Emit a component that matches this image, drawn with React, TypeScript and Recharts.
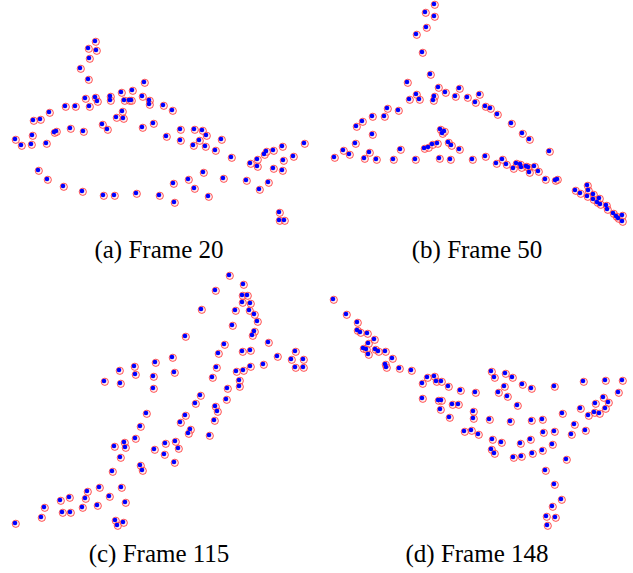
import { Scatter, ScatterChart, XAxis, YAxis } from 'recharts'

// point positions per frame (x, y in the panel's own units, y grows downward)
const frame20: [number, number][] = [
  [95, 41], [88, 48], [96, 50], [89, 58], [80, 68], [88, 79], [144, 82], [132, 90], [121, 92],
  [85, 98], [95, 97], [97, 101], [110, 96], [110, 100], [124, 100], [129, 100], [131, 100],
  [142, 96], [149, 100], [149, 104], [65, 106], [75, 106], [89, 106], [49, 112], [122, 111],
  [116, 117], [123, 118], [33, 120], [40, 119], [153, 123], [142, 127], [102, 124], [107, 129],
  [70, 128], [83, 131], [54, 132], [56, 131], [32, 135], [15, 139], [21, 145], [31, 144],
  [46, 143], [38, 170], [47, 179], [63, 186], [82, 191], [103, 195], [114, 195], [136, 193],
  [159, 195], [163, 105], [172, 110], [166, 136], [180, 129], [180, 140], [194, 129], [202, 130],
  [206, 135], [199, 140], [193, 145], [205, 146], [221, 139], [215, 150], [231, 157], [250, 163],
  [257, 159], [257, 166], [264, 154], [266, 151], [273, 150], [282, 146], [304, 143], [283, 160],
  [293, 156], [273, 168], [282, 170], [203, 172], [188, 179], [173, 183], [194, 188], [223, 178],
  [246, 180], [268, 182], [259, 189], [174, 202], [208, 196], [279, 212], [279, 220], [284, 220],
]

const frame50: [number, number][] = [
  [434, 4], [425, 12], [434, 16], [426, 27], [416, 34], [422, 52], [430, 74], [407, 82], [438, 87],
  [445, 92], [459, 88], [455, 96], [467, 97], [479, 94], [475, 102], [485, 106], [416, 94],
  [409, 99], [419, 99], [434, 96], [433, 100], [387, 108], [398, 110], [372, 116], [384, 116],
  [362, 121], [356, 126], [372, 134], [355, 143], [343, 150], [349, 154], [334, 157], [369, 152],
  [364, 158], [376, 159], [393, 159], [400, 149], [415, 159], [424, 148], [428, 147], [432, 144],
  [437, 143], [440, 129], [442, 133], [444, 131], [448, 142], [451, 145], [459, 149], [439, 158],
  [450, 159], [472, 159], [485, 156], [490, 108], [497, 114], [511, 123], [522, 133], [529, 139],
  [549, 151], [496, 163], [502, 159], [506, 164], [513, 168], [516, 163], [520, 164], [521, 167],
  [526, 166], [528, 167], [529, 172], [534, 166], [538, 171], [545, 179], [555, 180], [557, 179],
  [575, 190], [580, 193], [587, 185], [588, 190], [593, 194], [587, 196], [593, 199], [597, 202],
  [600, 204], [599, 198], [606, 205], [607, 209], [613, 213], [616, 216], [618, 218], [622, 221],
  [622, 215],
]

const frame115: [number, number][] = [
  [104, 381], [120, 383], [153, 388], [146, 413], [140, 426], [135, 438], [124, 442], [125, 447],
  [114, 446], [120, 457], [154, 449], [165, 443], [164, 454], [140, 465], [142, 470], [112, 471],
  [99, 487], [121, 487], [87, 491], [85, 498], [69, 497], [60, 500], [109, 496], [125, 502],
  [97, 505], [82, 507], [44, 507], [62, 512], [70, 512], [41, 517], [15, 523], [115, 520],
  [123, 522], [117, 525], [229, 275], [243, 284], [215, 290], [242, 295], [247, 295], [242, 302],
  [250, 303], [201, 309], [235, 310], [249, 310], [254, 314], [257, 321], [232, 325], [254, 331],
  [252, 335], [185, 336], [268, 342], [224, 344], [242, 351], [250, 350], [218, 353], [295, 351],
  [277, 356], [291, 359], [303, 359], [295, 367], [303, 367], [263, 364], [250, 366], [243, 370],
  [236, 371], [216, 367], [172, 357], [155, 362], [174, 372], [134, 366], [119, 370], [135, 374],
  [153, 376], [212, 377], [239, 380], [239, 386], [227, 388], [200, 395], [226, 399], [195, 403],
  [215, 406], [217, 411], [185, 415], [180, 422], [214, 420], [190, 429], [188, 433], [209, 435],
  [175, 441], [178, 448], [174, 462],
]

const frame148: [number, number][] = [
  [333, 299], [346, 314], [357, 322], [357, 330], [360, 332], [367, 333], [374, 339], [368, 343],
  [363, 348], [366, 349], [368, 354], [375, 349], [378, 351], [385, 351], [392, 358], [385, 364],
  [386, 367], [399, 368], [411, 370], [427, 377], [434, 376], [422, 383], [436, 381], [441, 381],
  [448, 386], [460, 390], [475, 392], [422, 398], [438, 400], [441, 400], [452, 404], [458, 404],
  [440, 409], [473, 411], [449, 417], [473, 418], [464, 431], [471, 430], [478, 434], [491, 371],
  [494, 377], [505, 373], [512, 377], [504, 386], [498, 392], [507, 396], [522, 384], [531, 388],
  [554, 386], [583, 381], [605, 380], [622, 380], [618, 392], [517, 405], [489, 419], [510, 421],
  [531, 420], [542, 419], [562, 413], [580, 408], [588, 415], [595, 403], [603, 397], [608, 402],
  [594, 412], [599, 413], [605, 408], [574, 424], [585, 430], [571, 434], [554, 431], [543, 432],
  [530, 439], [520, 443], [501, 442], [492, 439], [552, 444], [491, 449], [494, 453], [542, 450],
  [513, 457], [521, 456], [532, 453], [566, 459], [545, 470], [554, 484], [561, 499], [552, 506],
  [546, 516], [555, 517], [547, 525],
]

const captions = ['(a) Frame 20', '(b) Frame 50', '(c) Frame 115', '(d) Frame 148']

const RedRing = (props: any) => (
  <circle cx={props.cx + 0.8} cy={props.cy + 0.8} r={3.6} fill="rgba(255,210,210,0.35)" stroke="#ff4040" strokeWidth={0.9} />
)

const BlueDot = (props: any) => <circle cx={props.cx} cy={props.cy} r={2.3} fill="#0000ff" />

function Panel({ pts, x0, y0, w, h }: { pts: [number, number][]; x0: number; y0: number; w: number; h: number }) {
  const data = pts.map(([x, y]) => ({ x, y }))
  return (
    <div style={{ position: 'absolute', left: x0, top: y0 }}>
      <ScatterChart width={w} height={h} margin={{ top: 0, right: 0, bottom: 0, left: 0 }}>
        <XAxis type="number" dataKey="x" domain={[x0, x0 + w]} hide allowDataOverflow />
        <YAxis type="number" dataKey="y" domain={[y0, y0 + h]} reversed hide allowDataOverflow />
        <Scatter data={data} shape={RedRing} isAnimationActive={false} />
        <Scatter data={data} shape={BlueDot} isAnimationActive={false} />
      </ScatterChart>
    </div>
  )
}

const captionStyle = (left: number, top: number): React.CSSProperties => ({
  position: 'absolute',
  left,
  top,
  width: 316,
  textAlign: 'center',
  fontFamily: '"Liberation Serif", serif',
  fontSize: 25,
  lineHeight: '25px',
  color: '#000',
})

export default function App() {
  return (
    <div style={{ position: 'absolute', left: 0, top: 0, width: 633, height: 573, background: '#fff' }}>
      <Panel pts={frame20} x0={0} y0={30} w={316} h={205} />
      <Panel pts={frame50} x0={325} y0={0} w={308} h={230} />
      <Panel pts={frame115} x0={0} y0={265} w={316} h={270} />
      <Panel pts={frame148} x0={325} y0={290} w={308} h={245} />
      <div style={captionStyle(1, 237)}>{captions[0]}</div>
      <div style={captionStyle(319, 237)}>{captions[1]}</div>
      <div style={captionStyle(1, 541)}>{captions[2]}</div>
      <div style={captionStyle(319, 541)}>{captions[3]}</div>
    </div>
  )
}
